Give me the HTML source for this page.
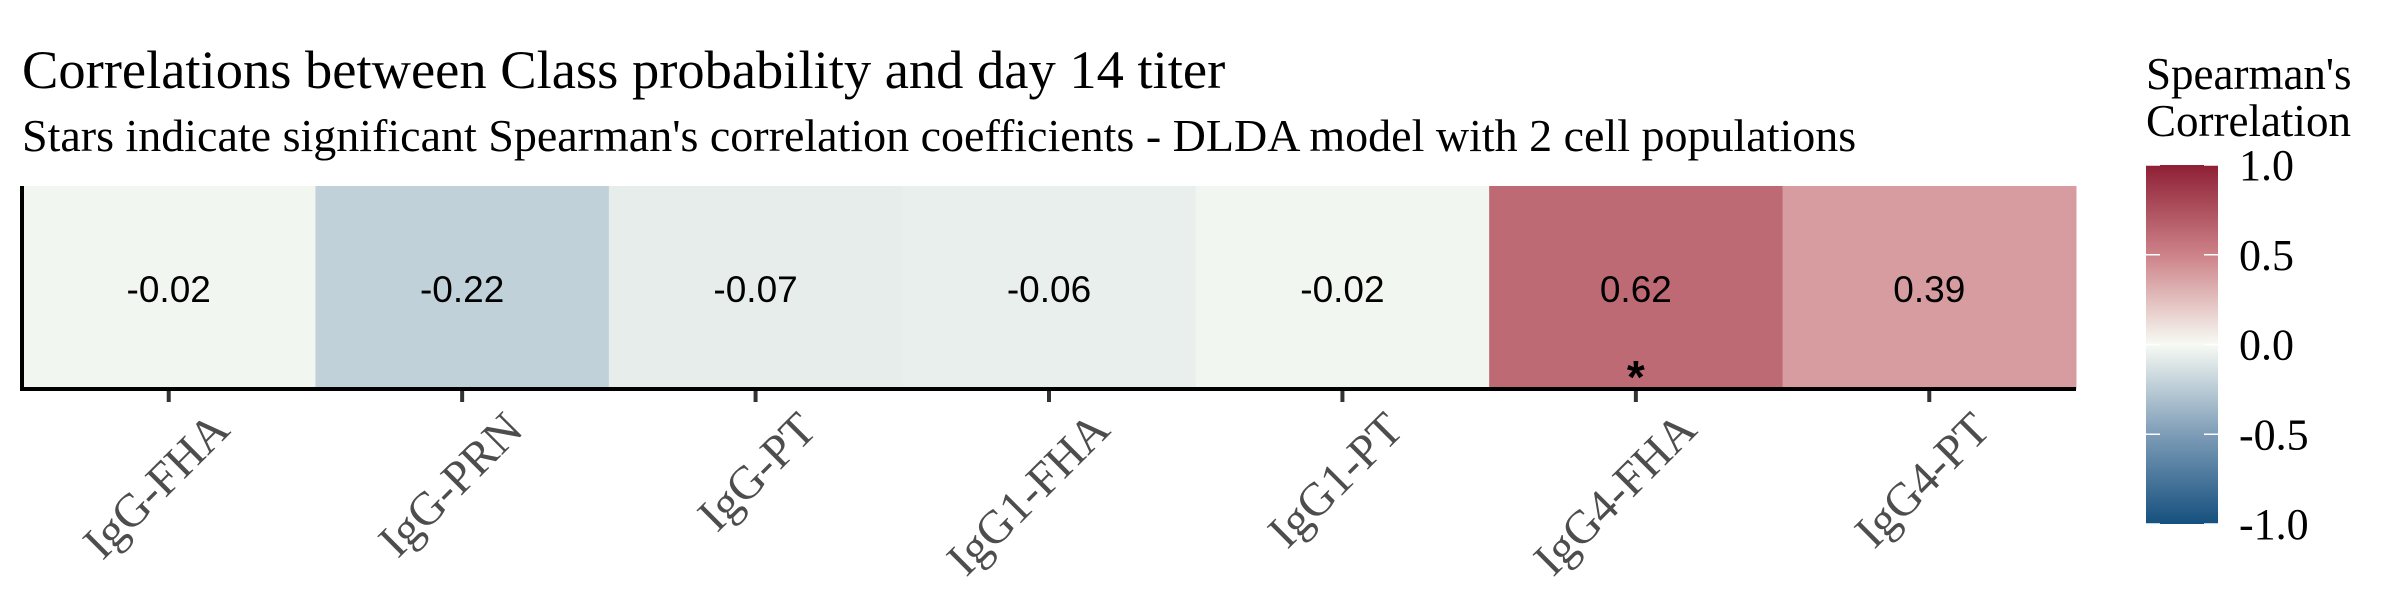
<!DOCTYPE html>
<html><head><meta charset="utf-8"><style>
html,body{margin:0;padding:0;background:#fff;}
svg{display:block;}
</style></head><body>
<svg id="chart" width="2400" height="600" xmlns="http://www.w3.org/2000/svg">
<defs>
<linearGradient id="cbar" x1="0" y1="1" x2="0" y2="0">
<stop offset="0" stop-color="#15507e"/>
<stop offset="0.25" stop-color="#7d9cb7"/>
<stop offset="0.5" stop-color="#f7faf3"/>
<stop offset="0.75" stop-color="#cd8288"/>
<stop offset="1" stop-color="#8e1f35"/>
</linearGradient>
</defs>
<text x="22" y="88" font-family="Liberation Serif, serif" font-size="54.5" fill="#000">Correlations between Class probability and day 14 titer</text>
<text x="22" y="151" font-family="Liberation Serif, serif" font-size="46" fill="#000">Stars indicate significant Spearman's correlation coefficients - DLDA model with 2 cell populations</text>
<g id="tiles"></g>
<g id="xaxis"></g>
<line x1="22" y1="186" x2="22" y2="391" stroke="#000" stroke-width="4"/>
<line x1="20" y1="389" x2="2076" y2="389" stroke="#000" stroke-width="4"/>
<g>
<text x="2146" y="89" font-family="Liberation Serif, serif" font-size="45">Spearman's</text>
<text x="2146" y="136" font-family="Liberation Serif, serif" font-size="45">Correlation</text>
<rect x="2146" y="165" width="72" height="359" fill="url(#cbar)"/>
<g id="cticks"></g>
</g>
</svg>
<script>
const categories = ["IgG-FHA","IgG-PRN","IgG-PT","IgG1-FHA","IgG1-PT","IgG4-FHA","IgG4-PT"];
const values = [-0.02,-0.22,-0.07,-0.06,-0.02,0.62,0.39];
const significant = [false,false,false,false,false,true,false];
const legendTicks = [1.0,0.5,0.0,-0.5,-1.0];
const legendTickLabels = ["1.0","0.5","0.0","-0.5","-1.0"];

const NS = "http://www.w3.org/2000/svg";
const x0 = 22, x1 = 2076, yTop = 186, yBot = 389;
const bw = (x1 - x0) / categories.length;
function xPos(i){ return x0 + i * bw; }
function cbY(v){ return 524 - (v + 1) / 2 * 359; }
const stops = [[-1,[21,80,126]],[-0.5,[125,156,183]],[0,[247,250,243]],[0.5,[205,130,136]],[1,[142,31,53]]];
function color(v){
  for (let k = 0; k < stops.length - 1; k++){
    const a = stops[k], b = stops[k+1];
    if (v <= b[0]){
      const t = (v - a[0]) / (b[0] - a[0]);
      const c = a[1].map((c0, j) => Math.round(c0 + (b[1][j] - c0) * t));
      return "rgb(" + c.join(",") + ")";
    }
  }
  return "rgb(142,31,53)";
}
const tiles = document.getElementById("tiles");
const xaxis = document.getElementById("xaxis");
categories.forEach((cat, i) => {
  const r = document.createElementNS(NS, "rect");
  r.setAttribute("x", xPos(i)); r.setAttribute("y", yTop);
  r.setAttribute("width", bw + 0.5); r.setAttribute("height", yBot - yTop);
  r.setAttribute("fill", color(values[i]));
  
  
  tiles.appendChild(r);
  const cx = xPos(i) + bw / 2;
  const t = document.createElementNS(NS, "text");
  t.setAttribute("x", cx); t.setAttribute("y", 302);
  t.setAttribute("text-anchor", "middle");
  t.setAttribute("font-family", "Liberation Sans, sans-serif");
  t.setAttribute("font-size", "37");
  t.textContent = values[i].toFixed(2);
  
  
  tiles.appendChild(t);
  if (significant[i]) {
    const s = document.createElementNS(NS, "text");
    s.setAttribute("x", cx); s.setAttribute("y", 393);
    s.setAttribute("text-anchor", "middle");
    s.setAttribute("font-family", "Liberation Sans, sans-serif");
    s.setAttribute("font-weight", "bold");
    s.setAttribute("font-size", "46");
    s.textContent = "*";
    
    
    tiles.appendChild(s);
  }
  const tk = document.createElementNS(NS, "line");
  tk.setAttribute("x1", cx); tk.setAttribute("x2", cx);
  tk.setAttribute("y1", 389); tk.setAttribute("y2", 402);
  tk.setAttribute("stroke", "#333"); tk.setAttribute("stroke-width", "4");
  
  
  xaxis.appendChild(tk);
  const lb = document.createElementNS(NS, "text");
  lb.setAttribute("transform", "translate(" + (cx + 63) + ",432) rotate(-45)");
  lb.setAttribute("text-anchor", "end");
  lb.setAttribute("font-family", "Liberation Serif, serif");
  lb.setAttribute("font-size", "47");
  lb.setAttribute("fill", "#4d4d4d");
  lb.textContent = cat;
  
  
  xaxis.appendChild(lb);
});
const ct = document.getElementById("cticks");
legendTicks.forEach((v, i) => {
  const y = cbY(v);
  [[2146, 2160], [2204, 2218]].forEach(p => {
    const l = document.createElementNS(NS, "line");
    l.setAttribute("x1", p[0]); l.setAttribute("x2", p[1]);
    l.setAttribute("y1", y); l.setAttribute("y2", y);
    l.setAttribute("stroke", "#fff"); l.setAttribute("stroke-width", "1.5");
    
    
    ct.appendChild(l);
  });
  const t = document.createElementNS(NS, "text");
  t.setAttribute("x", 2239); t.setAttribute("y", y + 15);
  t.setAttribute("font-family", "Liberation Serif, serif");
  t.setAttribute("font-size", "44");
  t.textContent = legendTickLabels[i];
  
  
  ct.appendChild(t);
});
</script>
</body></html>
